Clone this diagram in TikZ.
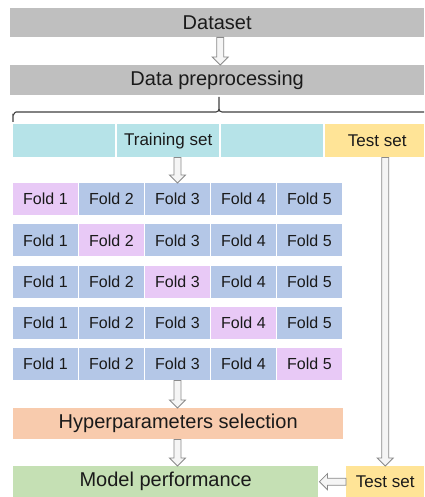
\documentclass[tikz,border=0pt]{standalone}
\usepackage{fontspec}
\setmainfont{Liberation Sans}
\usetikzlibrary{calc}
\definecolor{cgray}{HTML}{BFBFBF}
\definecolor{ccyan}{HTML}{B6E3E8}
\definecolor{cyellow}{HTML}{FFE497}
\definecolor{cblue}{HTML}{B4C7E7}
\definecolor{cpink}{HTML}{E8C9F6}
\definecolor{corange}{HTML}{F8CBAD}
\definecolor{cgreen}{HTML}{C5E0B4}
\definecolor{carrow}{HTML}{8A8A8A}
\definecolor{cafill}{HTML}{F5F5F5}
\definecolor{ctext}{HTML}{1A1A1A}
\tikzset{
  box/.style={rectangle, inner sep=0pt, anchor=north west, text=ctext},
  bigtxt/.style={font=\fontsize{20}{24}\selectfont},
  midtxt/.style={font=\fontsize{17}{20}\selectfont},
  foldtxt/.style={font=\fontsize{16}{19}\selectfont},
  fold/.style={box, foldtxt, minimum width=64.5pt, minimum height=32pt, fill=cblue},
  hfold/.style={fold, fill=cpink},
  blockarrow/.style={draw=carrow, fill=cafill, line width=0.8pt, line join=miter},
  bracestyle/.style={draw=black!75, line width=1.1pt}
}
% vertical block arrow: #1 top start, #2 tip (below)
\newcommand\vblock[2]{\draw[blockarrow] ($(#1)+(-3.5,0)$) -- ($(#2)+(-3.5,-8)$) -- ($(#2)+(-8,-8)$) -- (#2) -- ($(#2)+(8,-8)$) -- ($(#2)+(3.5,-8)$) -- ($(#1)+(3.5,0)$) -- cycle;}
% horizontal leftward block arrow: #1 right start, #2 tip (left)
\newcommand\hblock[2]{\draw[blockarrow] ($(#1)+(0,-3.5)$) -- ($(#2)+(8,-3.5)$) -- ($(#2)+(8,-8)$) -- (#2) -- ($(#2)+(8,8)$) -- ($(#2)+(8,3.5)$) -- ($(#1)+(0,3.5)$) -- cycle;}
\begin{document}
\begin{tikzpicture}[x=1pt,y=-1pt]
\useasboundingbox[fill=white] (0,0) rectangle (424,497);
% top boxes
\node[box, bigtxt, fill=cgray, minimum width=414pt, minimum height=29pt] (ds) at (10,8) {Dataset};
\node[box, bigtxt, fill=cgray, minimum width=414pt, minimum height=30pt] (dp) at (10,65) {Data preprocessing};
% training / test split
\node[box, fill=ccyan, minimum width=102pt, minimum height=33pt] (tr1) at (13,124) {};
\node[box, midtxt, fill=ccyan, minimum width=102pt, minimum height=33pt] (tr2) at (117,124) {Training set};
\node[box, fill=ccyan, minimum width=102pt, minimum height=33pt] (tr3) at (221,124) {};
\node[box, midtxt, fill=cyellow, minimum width=99pt, minimum height=33pt] (ts1) at (325,124) {\hspace*{5pt}Test set};
% brace
\coordinate (bl) at (tr1.north west);
\coordinate (bm) at (219,97);
\coordinate (br) at (424,112);
\draw[bracestyle] ($(bl)+(0,-2)$) -- ($(bl)+(0,-9)$) to[out=-90,in=180] ($(bl)+(3,-12)$) -- ($(bm)+(-3,15)$) to[out=0,in=-90] ($(bm)+(0,12)$) -- (bm);
\draw[bracestyle] ($(bm)+(0,12)$) to[out=-90,in=180] ($(bm)+(3,15)$) -- (br);
% folds
\foreach \r/\y in {1/183,2/224.25,3/265.5,4/306.75,5/348}{
  \foreach \c/\x in {1/13,2/79,3/145,4/211,5/277}{
    \ifnum\r=\c
      \node[hfold] (f\r\c) at (\x,\y) {Fold \c};
    \else
      \node[fold] (f\r\c) at (\x,\y) {Fold \c};
    \fi
  }
}
% lower boxes
\node[box, bigtxt, fill=corange, minimum width=330pt, minimum height=31pt] (hp) at (13,408) {Hyperparameters selection};
\node[box, bigtxt, fill=cgreen, minimum width=305pt, minimum height=31pt] (mp) at (13,466) {Model performance};
\node[box, midtxt, fill=cyellow, minimum width=78pt, minimum height=31pt] (ts2) at (346,466) {Test set};
% arrows
\coordinate (a1s) at ($(ds.south)+(3,0)$);
\coordinate (a1e) at (a1s |- dp.north);
\vblock{a1s}{a1e}
\coordinate (a2s) at (f13.north |- tr2.south);
\vblock{a2s}{f13.north}
\coordinate (a3s) at (f53.south);
\coordinate (a3e) at (f53.south |- hp.north);
\vblock{a3s}{a3e}
\coordinate (a4s) at (a3s |- hp.south);
\coordinate (a4e) at (a3s |- mp.north);
\vblock{a4s}{a4e}
\coordinate (a5s) at (ts2.north |- ts1.south);
\vblock{a5s}{ts2.north}
\coordinate (a6e) at ($(mp.east)+(1,0)$);
\hblock{ts2.west}{a6e}
\end{tikzpicture}
\end{document}
